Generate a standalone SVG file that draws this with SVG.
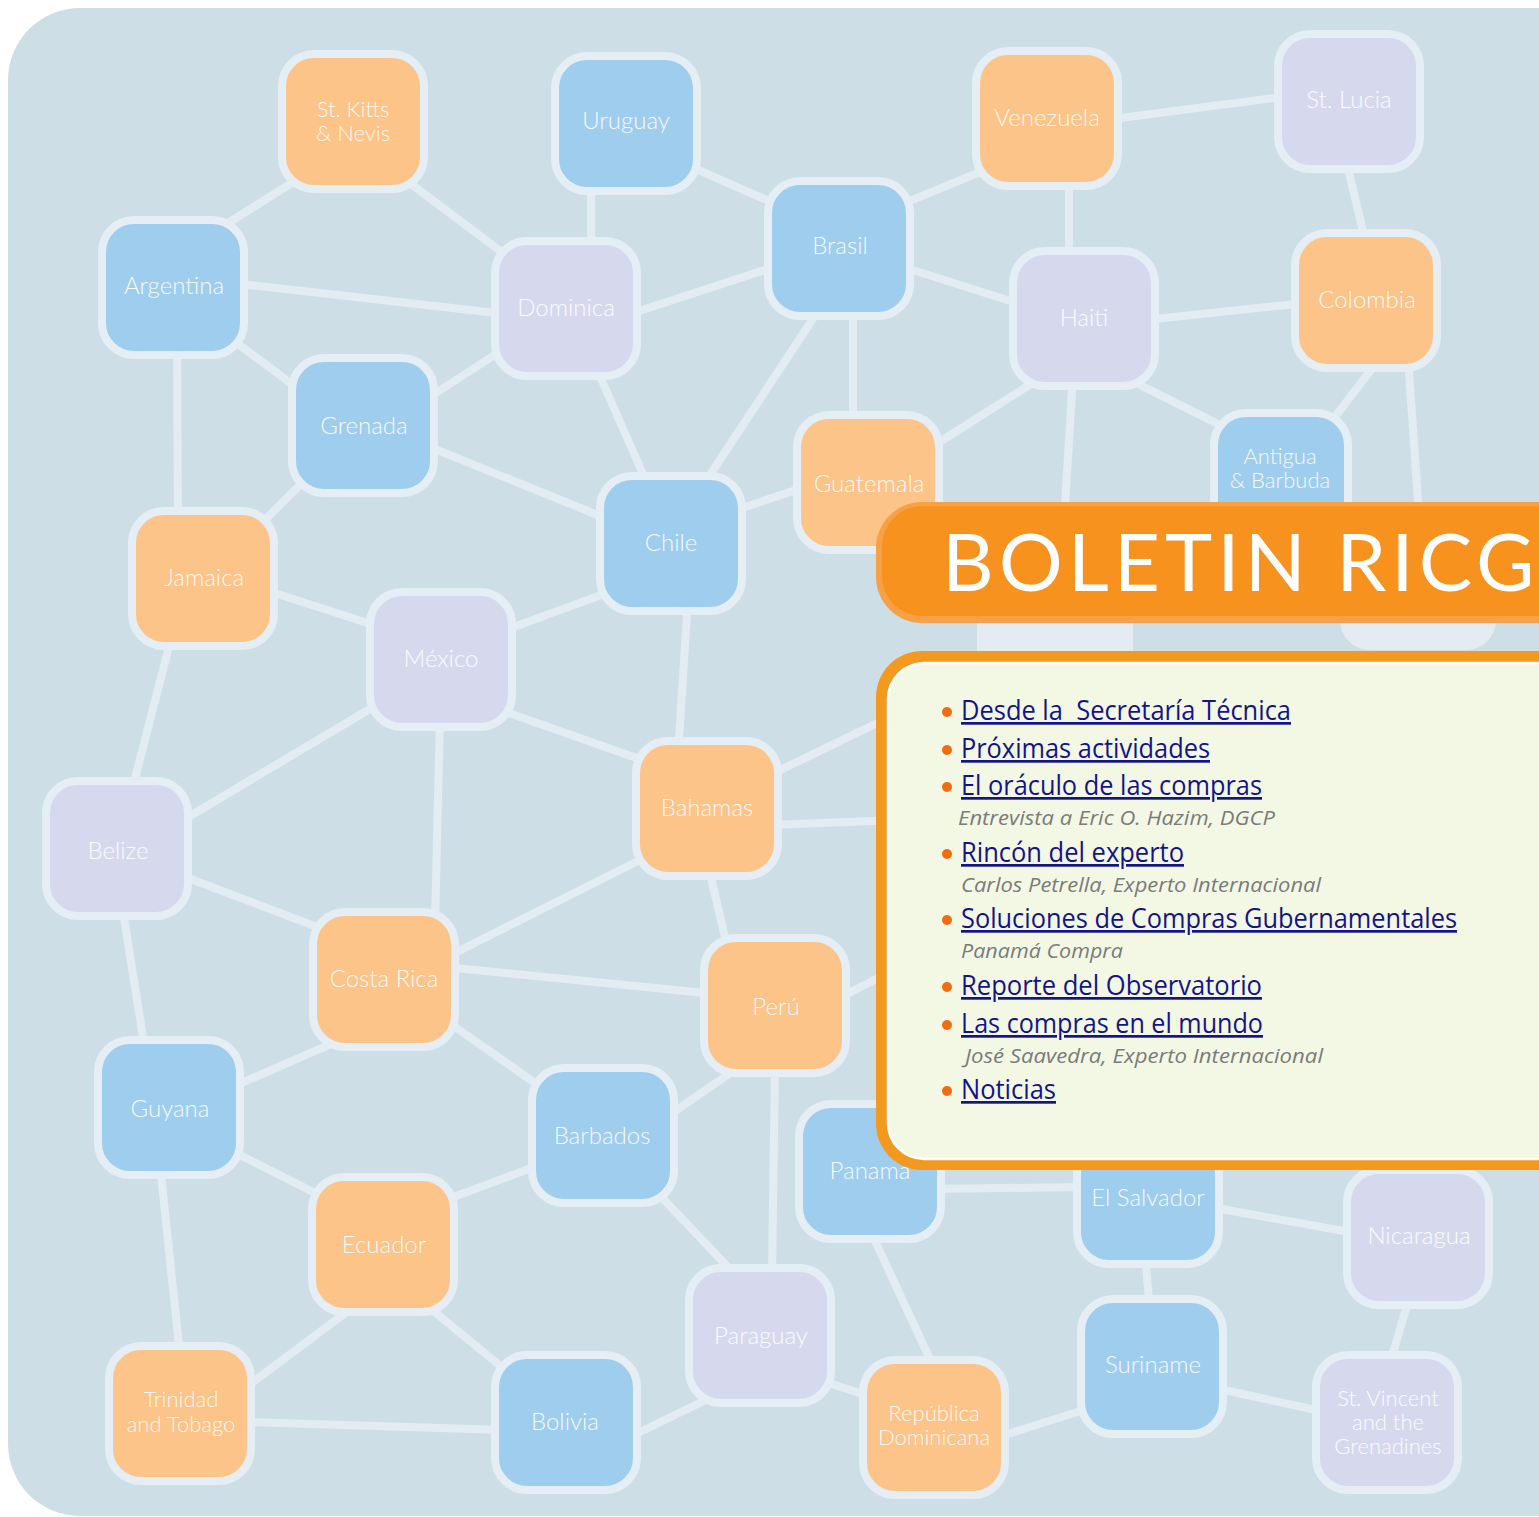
<svg xmlns="http://www.w3.org/2000/svg" width="1539" height="1517" viewBox="0 0 1539 1517">
<defs>
<style>
.bg{fill:#cedee6}
.e{stroke:#e3ecf2;stroke-width:8;fill:none;stroke-linecap:butt}
.n rect{stroke:#e5eef4;stroke-width:8}
.b{fill:#9fcdee}
.o{fill:#fcc488}
.l{fill:#d6d9ee}
.n text{font-family:Lato,"Open Sans",sans-serif;font-weight:300;font-size:24px;fill:#ffffff;fill-opacity:0.92;text-anchor:middle}
.n text.m{font-size:22px}
.lk{font-family:"Open Sans","Noto Sans",sans-serif;font-size:27px;fill:#14148a;text-decoration:underline;white-space:pre}
.sub{font-family:"Open Sans","Noto Sans",sans-serif;font-size:20px;font-style:italic;fill:#7b7b7b}
.bul{fill:#f66b10}
</style>
</defs>
<rect width="1539" height="1517" fill="#ffffff"/>
<rect class="bg" x="8" y="8" width="1600" height="1508" rx="72"/>
<g id="connectors">
<path class="e" d="M220 228L300 178"/>
<path class="e" d="M395 172L515 262"/>
<path class="e" d="M591 180L591 250"/>
<path class="e" d="M680 162L785 208"/>
<path class="e" d="M240 284L505 314"/>
<path class="e" d="M230 338L300 390"/>
<path class="e" d="M177 340L178 520"/>
<path class="e" d="M425 400L510 345"/>
<path class="e" d="M630 314L780 265"/>
<path class="e" d="M595 365L650 490"/>
<path class="e" d="M900 205L990 168"/>
<path class="e" d="M900 266L1020 304"/>
<path class="e" d="M853 305L853 425"/>
<path class="e" d="M822 305L700 490"/>
<path class="e" d="M1105 120L1290 96"/>
<path class="e" d="M1069 175L1069 260"/>
<path class="e" d="M1346 160L1365 240"/>
<path class="e" d="M1145 320L1305 303"/>
<path class="e" d="M1045 375L930 448"/>
<path class="e" d="M1120 375L1230 430"/>
<path class="e" d="M1073 375L1058 620"/>
<path class="e" d="M1380 358L1325 430"/>
<path class="e" d="M1408 358L1425 600"/>
<path class="e" d="M425 445L615 522"/>
<path class="e" d="M310 475L255 530"/>
<path class="e" d="M805 487L730 512"/>
<path class="e" d="M615 590L500 632"/>
<path class="e" d="M688 598L678 755"/>
<path class="e" d="M265 590L380 627"/>
<path class="e" d="M172 635L132 790"/>
<path class="e" d="M385 700L180 822"/>
<path class="e" d="M500 710L648 762"/>
<path class="e" d="M440 715L435 925"/>
<path class="e" d="M770 775L900 712"/>
<path class="e" d="M770 825L900 820"/>
<path class="e" d="M650 855L445 958"/>
<path class="e" d="M708 865L728 950"/>
<path class="e" d="M835 1000L900 967"/>
<path class="e" d="M180 875L325 930"/>
<path class="e" d="M122 905L145 1050"/>
<path class="e" d="M445 967L715 994"/>
<path class="e" d="M340 1040L230 1088"/>
<path class="e" d="M445 1020L548 1092"/>
<path class="e" d="M742 1065L665 1118"/>
<path class="e" d="M775 1065L772 1275"/>
<path class="e" d="M230 1150L325 1198"/>
<path class="e" d="M160 1165L180 1355"/>
<path class="e" d="M545 1163L440 1202"/>
<path class="e" d="M650 1185L745 1285"/>
<path class="e" d="M360 1302L245 1388"/>
<path class="e" d="M420 1300L515 1378"/>
<path class="e" d="M245 1422L505 1430"/>
<path class="e" d="M630 1437L720 1393"/>
<path class="e" d="M820 1380L880 1400"/>
<path class="e" d="M930 1189L1085 1187"/>
<path class="e" d="M870 1230L935 1370"/>
<path class="e" d="M1210 1207L1355 1233"/>
<path class="e" d="M1145 1255L1150 1310"/>
<path class="e" d="M1410 1295L1388 1370"/>
<path class="e" d="M1215 1388L1325 1412"/>
<path class="e" d="M1090 1408L995 1438"/>
</g>
<g id="hidden-nodes">
<rect x="977" y="600" width="156" height="52" fill="#e3ecf2"/>
<rect x="1340" y="580" width="156" height="70" rx="30" fill="#e3ecf2"/>
</g>
<g id="n-stkitts" class="n"><rect class="o" x="282" y="54" width="142" height="135" rx="32"/><text class="m" x="353" y="117">St. Kitts</text><text class="m" x="353" y="141">&amp; Nevis</text></g>
<g id="n-uruguay" class="n"><rect class="b" x="555" y="56" width="142" height="135" rx="32"/><text x="626" y="129">Uruguay</text></g>
<g id="n-venezuela" class="n"><rect class="o" x="976" y="51" width="142" height="135" rx="32"/><text x="1047" y="126">Venezuela</text></g>
<g id="n-stlucia" class="n"><rect class="l" x="1278" y="34" width="142" height="135" rx="32"/><text x="1349" y="108">St. Lucia</text></g>
<g id="n-argentina" class="n"><rect class="b" x="102" y="220" width="142" height="135" rx="32"/><text x="174" y="294">Argentina</text></g>
<g id="n-dominica" class="n"><rect class="l" x="495" y="241" width="142" height="135" rx="32"/><text x="566" y="316">Dominica</text></g>
<g id="n-brasil" class="n"><rect class="b" x="768" y="181" width="142" height="135" rx="32"/><text x="840" y="254">Brasil</text></g>
<g id="n-haiti" class="n"><rect class="l" x="1013" y="251" width="142" height="135" rx="32"/><text x="1084" y="326">Haiti</text></g>
<g id="n-colombia" class="n"><rect class="o" x="1295" y="233" width="142" height="135" rx="32"/><text x="1367" y="308">Colombia</text></g>
<g id="n-grenada" class="n"><rect class="b" x="292" y="358" width="142" height="135" rx="32"/><text x="364" y="434">Grenada</text></g>
<g id="n-guatemala" class="n"><rect class="o" x="797" y="415" width="142" height="135" rx="32"/><text x="869" y="492">Guatemala</text></g>
<g id="n-antigua" class="n"><rect class="b" x="1214" y="413" width="134" height="135" rx="32"/><text class="m" x="1280" y="464">Antigua</text><text class="m" x="1280" y="488">&amp; Barbuda</text></g>
<g id="n-chile" class="n"><rect class="b" x="600" y="476" width="142" height="135" rx="32"/><text x="671" y="551">Chile</text></g>
<g id="n-jamaica" class="n"><rect class="o" x="132" y="511" width="142" height="135" rx="32"/><text x="204" y="586">Jamaica</text></g>
<g id="n-mexico" class="n"><rect class="l" x="370" y="592" width="142" height="135" rx="32"/><text x="441" y="667">México</text></g>
<g id="n-bahamas" class="n"><rect class="o" x="636" y="741" width="142" height="135" rx="32"/><text x="707" y="816">Bahamas</text></g>
<g id="n-belize" class="n"><rect class="l" x="46" y="781" width="142" height="135" rx="32"/><text x="118" y="859">Belize</text></g>
<g id="n-costarica" class="n"><rect class="o" x="313" y="912" width="142" height="135" rx="32"/><text x="384" y="987">Costa Rica</text></g>
<g id="n-peru" class="n"><rect class="o" x="704" y="938" width="142" height="135" rx="32"/><text x="776" y="1015">Perú</text></g>
<g id="n-guyana" class="n"><rect class="b" x="98" y="1040" width="142" height="135" rx="32"/><text x="170" y="1117">Guyana</text></g>
<g id="n-barbados" class="n"><rect class="b" x="532" y="1068" width="142" height="135" rx="32"/><text x="602" y="1144">Barbados</text></g>
<g id="n-panama" class="n"><rect class="b" x="799" y="1104" width="142" height="135" rx="32"/><text x="870" y="1179">Panama</text></g>
<g id="n-elsalvador" class="n"><rect class="b" x="1077" y="1129" width="142" height="135" rx="32"/><text x="1148" y="1206">El Salvador</text></g>
<g id="n-nicaragua" class="n"><rect class="l" x="1347" y="1170" width="142" height="135" rx="32"/><text x="1419" y="1244">Nicaragua</text></g>
<g id="n-ecuador" class="n"><rect class="o" x="312" y="1177" width="142" height="135" rx="32"/><text x="384" y="1253">Ecuador</text></g>
<g id="n-paraguay" class="n"><rect class="l" x="689" y="1268" width="142" height="135" rx="32"/><text x="761" y="1344">Paraguay</text></g>
<g id="n-suriname" class="n"><rect class="b" x="1081" y="1299" width="142" height="135" rx="32"/><text x="1153" y="1373">Suriname</text></g>
<g id="n-trinidad" class="n"><rect class="o" x="109" y="1346" width="142" height="135" rx="32"/><text class="m" x="181" y="1407">Trinidad</text><text class="m" x="181" y="1432">and Tobago</text></g>
<g id="n-bolivia" class="n"><rect class="b" x="495" y="1355" width="142" height="135" rx="32"/><text x="565" y="1430">Bolivia</text></g>
<g id="n-repdom" class="n"><rect class="o" x="863" y="1360" width="142" height="135" rx="32"/><text class="m" x="934" y="1421">República</text><text class="m" x="934" y="1445">Dominicana</text></g>
<g id="n-stvincent" class="n"><rect class="l" x="1316" y="1355" width="142" height="135" rx="32"/><text class="m" x="1388" y="1406">St. Vincent</text><text class="m" x="1388" y="1430">and the</text><text class="m" x="1388" y="1454">Grenadines</text></g>
<g id="banner">
<rect x="876" y="502" width="720" height="121" rx="46" fill="#f8a045"/>
<rect x="882" y="506" width="712" height="110" rx="40" fill="#f7921e"/>
<text x="942" y="591" font-family="Lato,'Open Sans',sans-serif" font-size="80" fill="#ffffff" letter-spacing="5">BOLETIN RICG</text>
</g>
<g id="textbox">
<rect x="876" y="651" width="720" height="519" rx="46" fill="#f39a1e"/>
<rect x="888" y="663" width="700" height="496" rx="36" fill="#f3f8e5" stroke="#ffffff" stroke-width="2.5"/>
<circle class="bul" cx="947" cy="712" r="5"/>
<text class="lk" x="961" y="720" textLength="330" lengthAdjust="spacingAndGlyphs">Desde la  Secretaría Técnica</text>
<circle class="bul" cx="947" cy="750" r="5"/>
<text class="lk" x="961" y="758" textLength="249" lengthAdjust="spacingAndGlyphs">Próximas actividades</text>
<circle class="bul" cx="947" cy="787" r="5"/>
<text class="lk" x="961" y="795" textLength="301" lengthAdjust="spacingAndGlyphs">El oráculo de las compras</text>
<text class="sub" x="958" y="825" textLength="317" lengthAdjust="spacingAndGlyphs">Entrevista a Eric O. Hazim, DGCP</text>
<circle class="bul" cx="947" cy="854" r="5"/>
<text class="lk" x="961" y="862" textLength="223" lengthAdjust="spacingAndGlyphs">Rincón del experto</text>
<text class="sub" x="961" y="892" textLength="360" lengthAdjust="spacingAndGlyphs">Carlos Petrella, Experto Internacional</text>
<circle class="bul" cx="947" cy="920" r="5"/>
<text class="lk" x="961" y="928" textLength="496" lengthAdjust="spacingAndGlyphs">Soluciones de Compras Gubernamentales</text>
<text class="sub" x="961" y="958" textLength="162" lengthAdjust="spacingAndGlyphs">Panamá Compra</text>
<circle class="bul" cx="947" cy="987" r="5"/>
<text class="lk" x="961" y="995" textLength="301" lengthAdjust="spacingAndGlyphs">Reporte del Observatorio</text>
<circle class="bul" cx="947" cy="1025" r="5"/>
<text class="lk" x="961" y="1033" textLength="302" lengthAdjust="spacingAndGlyphs">Las compras en el mundo</text>
<text class="sub" x="965" y="1063" textLength="358" lengthAdjust="spacingAndGlyphs">José Saavedra, Experto Internacional</text>
<circle class="bul" cx="947" cy="1091" r="5"/>
<text class="lk" x="961" y="1099" textLength="95" lengthAdjust="spacingAndGlyphs">Noticias</text>
</g>
</svg>
